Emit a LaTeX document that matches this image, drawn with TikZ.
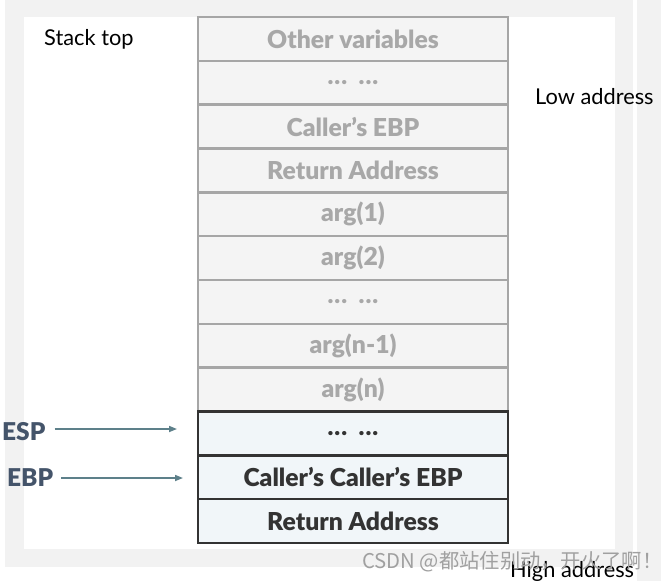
\documentclass[tikz,border=0pt]{standalone}
\usepackage{fontspec}
\setmainfont{Lato}
\newfontfamily\heavyfont{Lato Black}
\newfontfamily\cjkfont{Noto Sans CJK SC}
\usetikzlibrary{arrows.meta}
\definecolor{framegray}{HTML}{F2F2F2}
\definecolor{lightcell}{HTML}{F4F4F4}
\definecolor{lightborder}{HTML}{A6A6A6}
\definecolor{lighttext}{HTML}{A8A8A8}
\definecolor{darkcell}{HTML}{F1F6F9}
\definecolor{darkborder}{HTML}{333333}
\definecolor{darktext}{HTML}{333333}
\definecolor{regtext}{HTML}{44546A}
\definecolor{arrowcol}{HTML}{5D808A}
\definecolor{wmcol}{HTML}{A0A0A0}
\tikzset{
  cellbase/.style={minimum width=310pt, minimum height=43.83pt, inner sep=0pt,
    font=\heavyfont\fontsize{24.7}{26}\selectfont, line width=2.6pt},
  oldcell/.style={cellbase, draw=lightborder, fill=lightcell, text=lighttext},
  curcell/.style={cellbase, draw=darkborder, fill=darkcell, text=darktext},
  sidelabel/.style={font=\fontsize{21.8}{23}\selectfont, text=black, inner sep=0pt},
  reglabel/.style={font=\heavyfont\fontsize{24.5}{25}\selectfont, text=regtext, inner sep=0pt},
  regarrow/.style={draw=arrowcol, line width=1.6pt, -{Triangle[length=8pt,width=6pt]}},
  watermark/.style={font=\cjkfont\fontsize{20.3}{22}\selectfont, text=wmcol, inner sep=0pt}
}
\begin{document}
\begin{tikzpicture}[x=1pt,y=-1pt]
\useasboundingbox (0,0) rectangle (661,581);
% background frame
\fill[framegray] (5,0) rectangle (633,567);
\fill[white] (24,17) rectangle (615,549);
\fill[framegray] (637,0) rectangle (661,581);
% stack cells
\def\rowh{43.83}
\foreach \i/\t in {1/Other variables, 2/{.\kern1pt.\kern1pt.\ \ .\kern1pt.\kern1pt.}, 3/Caller’s EBP, 4/Return Address,
                   5/arg(1), 6/arg(2), 7/{.\kern1pt.\kern1pt.\ \ .\kern1pt.\kern1pt.}, 8/arg(n-1), 9/arg(n)} {
  \node[oldcell] (c\i) at (353, {17+\rowh*(\i-0.5)}) {\t};
}
\foreach \i/\t in {10/{.\kern1pt.\kern1pt.\ \ .\kern1pt.\kern1pt.}, 11/Caller’s Caller’s EBP, 12/Return Address} {
  \node[curcell] (c\i) at (353, {17+\rowh*(\i-0.5)}) {\t};
}
% side labels
\node[sidelabel, anchor=west] (top) at (44,39) {Stack top};
\node[sidelabel, anchor=west] (low) at (535,97) {Low address};
\node[sidelabel, anchor=base west] (high) at (510,577) {High address};
% registers
\node[reglabel, anchor=west] (esp) at (2,432) {ESP};
\node[reglabel, anchor=west] (ebp) at (7,478) {EBP};
\coordinate (espend) at (177,429);
\coordinate (ebpend) at (183,478);
\draw[regarrow] ([xshift=9pt]esp.east |- espend) -- (espend);
\draw[regarrow] ([xshift=8pt]ebp.east |- ebpend) -- (ebpend);
% watermark
\node[watermark, anchor=west] (wm) at (362,562) {CSDN @都站住别动，开火了啊！};
\end{tikzpicture}
\end{document}
